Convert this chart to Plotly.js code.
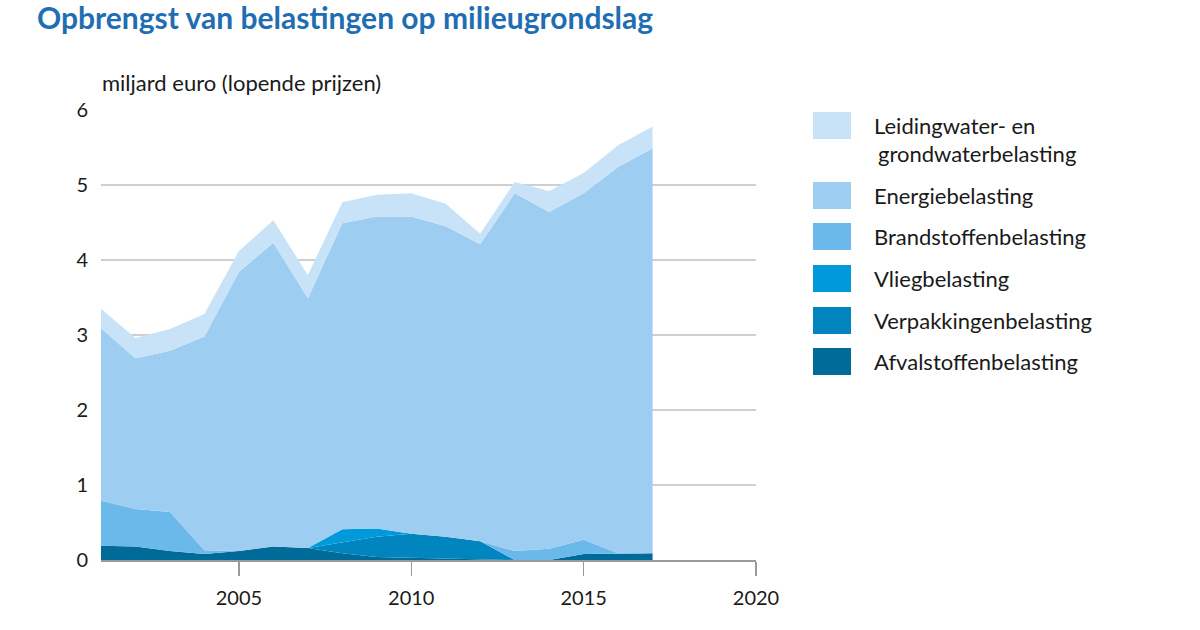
<!DOCTYPE html>
<html>
<head>
<meta charset="utf-8">
<script src="https://cdn.plot.ly/plotly-3.0.1.min.js"></script>
<style>html,body{margin:0;padding:0;background:#fff;}#chart{width:1200px;height:630px;}</style>
</head>
<body>
<div id="chart"></div>
<script>
// Data (miljard euro, lopende prijzen)
const years = [2001,2002,2003,2004,2005,2006,2007,2008,2009,2010,2011,2012,2013,2014,2015,2016,2017];
const afvalstoffen   = [0.19,0.18,0.12,0.08,0.12,0.18,0.16,0.09,0.04,0.03,0.02,0.01,0.00,0.00,0.08,0.08,0.09];
const verpakkingen   = [0.00,0.00,0.00,0.00,0.00,0.00,0.00,0.15,0.27,0.32,0.29,0.24,0.00,0.00,0.00,0.00,0.00];
const vlieg          = [0.00,0.00,0.00,0.00,0.00,0.00,0.00,0.17,0.11,0.00,0.00,0.00,0.00,0.00,0.00,0.00,0.00];
const brandstoffen   = [0.60,0.50,0.52,0.05,0.00,0.00,0.00,0.00,0.00,0.00,0.00,0.00,0.12,0.15,0.19,0.01,0.00];
const energie        = [2.30,2.01,2.15,2.85,3.72,4.05,3.33,4.08,4.16,4.23,4.14,3.96,4.77,4.49,4.62,5.15,5.40];
const leidingwater   = [0.26,0.27,0.29,0.30,0.28,0.30,0.31,0.28,0.29,0.31,0.30,0.14,0.15,0.28,0.27,0.29,0.29];

const seriesNames = ["Afvalstoffenbelasting","Verpakkingenbelasting","Vliegbelasting","Brandstoffenbelasting","Energiebelasting","Leidingwater- en grondwaterbelasting"];
const legendLines = [["Afvalstoffenbelasting"],["Verpakkingenbelasting"],["Vliegbelasting"],["Brandstoffenbelasting"],["Energiebelasting"],["Leidingwater- en"," grondwaterbelasting"]];
const seriesValues = [afvalstoffen, verpakkingen, vlieg, brandstoffen, energie, leidingwater];
const colors = ["#006b98","#0085bf","#009adb","#6bb8ea","#9dcdf1","#c8e3f7"];

const xTicks = [2005,2010,2015,2020];
const yTicks = [0,1,2,3,4,5,6];

const FONT = "Lato, 'Noto Sans', sans-serif";

const traces = seriesValues.map((v,i)=>({
  type:"scatter", mode:"lines", x:years, y:v, name:seriesNames[i],
  stackgroup:"one", line:{width:0, color:colors[i]}, fillcolor:colors[i],
  showlegend:false, hoverinfo:"x+y+name"
}));

// custom legend (top to bottom: reverse stack order)
const PL = 101, PW = 655, PT = 110, PH = 450;
const px = x => (x-PL)/PW;
const py = y => 1-(y-PT)/PH;
const shapes = [];
const annotations = [];
const boxTops = [112,182,223,265,307,348];
const boxW = 38, boxH = 27;
for (let k=0;k<6;k++){
  const i = 5-k;
  const y0 = boxTops[k];
  shapes.push({type:"rect", xref:"paper", yref:"paper",
    x0:px(813), x1:px(813+boxW), y0:py(y0+boxH), y1:py(y0),
    fillcolor:colors[i], line:{width:0}});
  const lines = legendLines[i];
  lines.forEach((t,j)=>{
    annotations.push({xref:"paper", yref:"paper", x:px(872 + (j>0?4:0)),
      y:py(y0+boxH/2 + j*28), xanchor:"left", yanchor:"middle",
      text:t.trim(), showarrow:false, align:"left",
      font:{family:FONT, size:22, color:"#1a1a1a"}});
  });
}
annotations.push({xref:"paper", yref:"paper", x:px(100), y:py(82),
  xanchor:"left", yanchor:"middle", text:"miljard euro (lopende prijzen)", showarrow:false,
  font:{family:FONT, size:22, color:"#1a1a1a"}});

const layout = {
  width:1200, height:630,
  margin:{l:PL, r:1200-PL-PW, t:PT, b:630-PT-PH},
  paper_bgcolor:"#fff", plot_bgcolor:"#fff",
  font:{family:FONT, size:20, color:"#1a1a1a"},
  title:{text:"<b>Opbrengst van belastingen op milieugrondslag</b>", x:37/1200, xanchor:"left",
    y:1-18/630, yanchor:"middle", font:{family:FONT, size:30, color:"#1f6db2"}},
  xaxis:{range:[2001,2020], tickvals:xTicks, ticktext:xTicks.map(String),
    showgrid:false, showline:true, linecolor:"#9a9a9a", linewidth:1.5,
    ticks:"outside", ticklen:14, tickcolor:"#9a9a9a", tickwidth:1.5, ticklabelstandoff:5,
    zeroline:false, tickfont:{family:FONT, size:20, color:"#1a1a1a"}},
  yaxis:{range:[0,6], tickvals:yTicks, ticktext:yTicks.map(String),
    showgrid:true, gridcolor:"#cfcfcf", gridwidth:1.5, zeroline:false, showline:false,
    ticks:"", ticklabelstandoff:12, tickfont:{family:FONT, size:20, color:"#1a1a1a"}},
  shapes:shapes, annotations:annotations, showlegend:false
};

Plotly.newPlot("chart", traces, layout, {displayModeBar:false, staticPlot:true});
</script>
</body>
</html>
